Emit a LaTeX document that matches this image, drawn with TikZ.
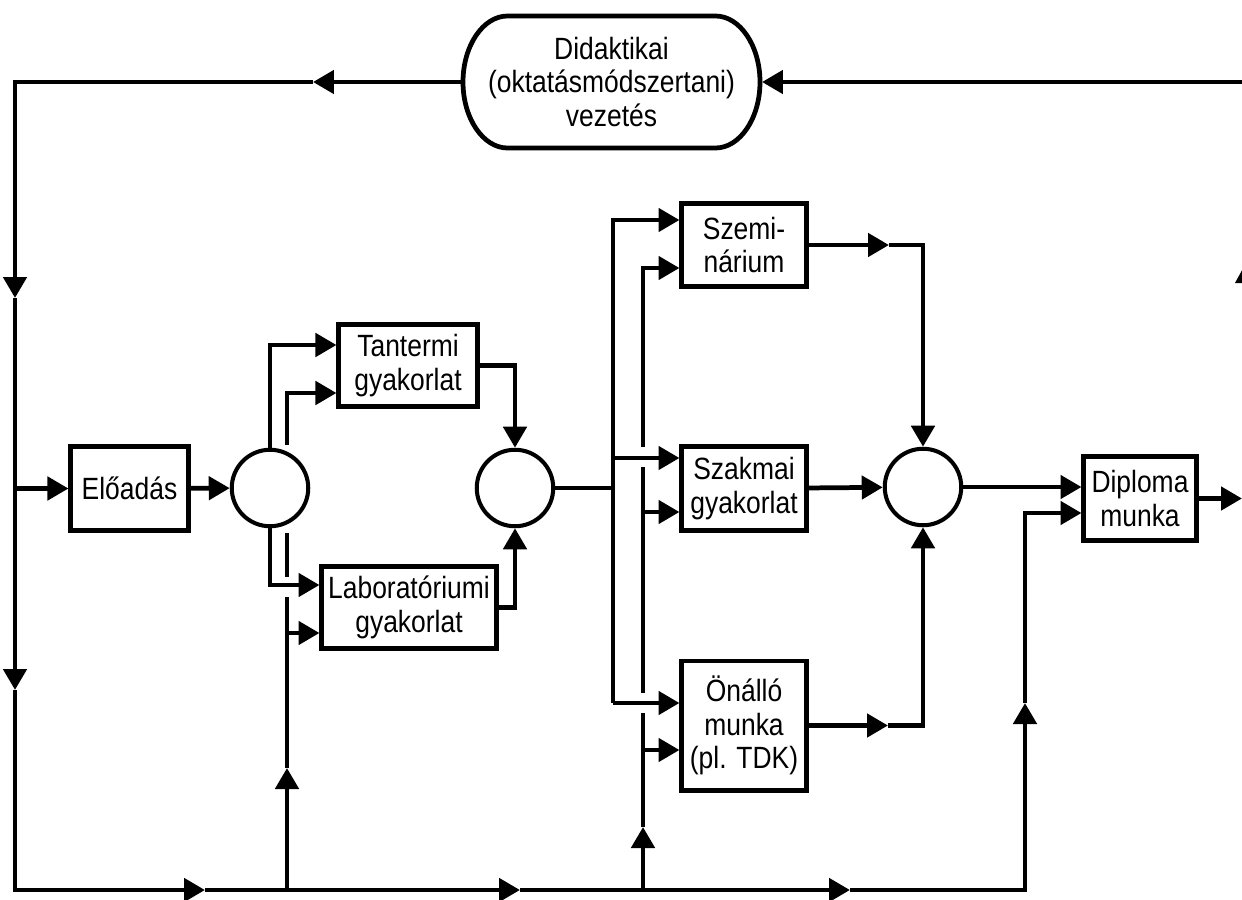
\documentclass[tikz,border=0pt]{standalone}
\usepackage{fontspec}
\setmainfont{Liberation Sans}[FakeStretch=0.86]
\usetikzlibrary{arrows.meta,positioning,calc}
\tikzset{
  blk/.style={draw,rectangle,line width=2.3pt,align=center,inner sep=0pt,font=\fontsize{17.5}{19}\selectfont},
  jn/.style={draw,circle,line width=2.3pt,minimum size=1.53cm,inner sep=0pt},
  ln/.style={line width=2.7pt},
  arr/.style={ln,-{Triangle[length=0.42cm,width=0.46cm]}}
}

\begin{document}
\begin{tikzpicture}[x=0.02cm,y=-0.02cm]
  \useasboundingbox (0,0) rectangle (1242,900);

  % boxes and junctions
  \node[blk,minimum width=2.36cm,minimum height=1.68cm] (elo) at (129.5,488.5) {Előadás};
  \node[jn] (c1) at (270,488) {};
  \node[blk,minimum width=2.78cm,minimum height=1.64cm] (tant) at (408,365.5) {Tantermi\\gyakorlat};
  \node[blk,minimum width=3.50cm,minimum height=1.64cm] (lab) at (409,607.5) {Laboratóriumi\\gyakorlat};
  \node[jn] (c2) at (515,488) {};
  \node[blk,minimum width=2.50cm,minimum height=1.66cm] (szem) at (744,245) {Szemi-\\nárium};
  \node[blk,minimum width=2.50cm,minimum height=1.68cm] (szak) at (744,488.5) {Szakmai\\gyakorlat};
  \node[blk,minimum width=2.50cm,minimum height=2.60cm] (onal) at (744,725.5) {Önálló\\munka\\(pl. TDK)};
  \node[jn] (c3) at (923,487) {};
  \node[blk,minimum width=2.26cm,minimum height=1.68cm] (dipl) at (1140,498.5) {Diploma\\munka};

  % didaktikai vezetes
  \node[blk,draw=none,minimum width=5.94cm,minimum height=2.64cm] (lead) at (611.5,82) {Didaktikai\\(oktatásmódszertani)\\vezetés};
  \draw[ln] (507.5,16) -- (715.5,16)
    .. controls (739.8,16) and (760,45.5) .. (760,82)
    .. controls (760,118.5) and (739.8,148) .. (715.5,148)
    -- (507.5,148)
    .. controls (483.2,148) and (463,118.5) .. (463,82)
    .. controls (463,45.5) and (483.2,16) .. cycle;

  % outer loop
  \coordinate (tr) at (1242,82);
  \coordinate (tl) at (15,82);
  \coordinate (bl) at (15,890);
  \coordinate (br) at (1025,890);
  \coordinate (m0) at (313,82);
  \coordinate (m1) at (15,298);
  \coordinate (m2) at (15,690);
  \coordinate (m3) at (205,890);
  \coordinate (m4) at (520,890);
  \coordinate (m5) at (850,890);
  \coordinate (m6) at (1025,703);
  \coordinate (dk) at (1025,513);
  \draw[arr] (tr) -- (lead.east);
  \draw[arr] (lead.west) -- (m0);
  \draw[arr] (m0) -- (tl) -- (m1);
  \draw[arr] (m1) -- (m2);
  \draw[arr] (m2) -- (bl) -- (m3);
  \draw[arr] (m3) -- (m4);
  \draw[arr] (m4) -- (m5);
  \draw[arr] (m5) -- (br) -- (m6);
  \draw[arr] (m6) -- (dk) -- (dk -| dipl.west);
  \draw[arr] (elo -| tl) -- (elo.west);
  \draw[arr] (elo) -- (c1);

  % first stage
  \coordinate (ta) at (270,345);
  \coordinate (la) at (270,585);
  \draw[arr] (c1.north) -- (ta) -- (ta -| tant.west);
  \draw[arr] (c1.south) -- (la) -- (la -| lab.west);
  \coordinate (v0) at (287,890);
  \coordinate (m7) at (287,768);
  \coordinate (lb) at (287,633);
  \coordinate (tb) at (287,393);
  \draw[arr] (v0) -- (m7);
  \draw[arr] (m7) -- (lb) -- (lb -| lab.west);
  \draw[ln] (lb) -- (287,597);
  \draw[ln] (287,577) -- (287,533);
  \draw[arr] (287,445) -- (tb) -- (tb -| tant.west);
  \draw[arr] (tant.east) -- (tant.east -| c2) -- (c2.north);
  \draw[arr] (lab.east) -- (lab.east -| c2) -- (c2.south);

  % second stage
  \coordinate (sa) at (613,220);
  \coordinate (sb) at (613,458);
  \coordinate (sc) at (613,703);
  \draw[ln] (c2.east) -- (c2 -| sa);
  \draw[arr] (sc) -- (sa) -- (sa -| szem.west);
  \draw[arr] (sb) -- (sb -| szak.west);
  \draw[arr] (sc) -- (sc -| onal.west);
  \coordinate (w0) at (643,890);
  \coordinate (m8) at (643,827);
  \coordinate (wa) at (643,268);
  \coordinate (wb) at (643,512);
  \coordinate (wc) at (643,750);
  \draw[arr] (w0) -- (m8);
  \draw[arr] (m8) -- (wc) -- (wc -| onal.west);
  \draw[ln] (wc) -- (643,713);
  \draw[ln] (643,693) -- (643,467);
  \draw[arr] (wb) -- (wb -| szak.west);
  \draw[arr] (643,447) -- (wa) -- (wa -| szem.west);

  % third stage
  \coordinate (ka) at (889,245);
  \coordinate (kc) at (888,725.5);
  \draw[arr] (szem.east) -- (ka);
  \draw[arr] (ka) -- (ka -| c3) -- (c3.north);
  \draw[arr] (szak) -- (c3);
  \draw[arr] (onal.east) -- (kc);
  \draw[arr] (kc) -- (kc -| c3) -- (c3.south);
  \draw[arr] (c3) -- (c3 -| dipl.west);
  \draw[arr] (dipl.east) -- (dipl -| tr);
  \fill (1235,283) -- (1246,263) -- (1257,283) -- cycle;
\end{tikzpicture}
\end{document}
